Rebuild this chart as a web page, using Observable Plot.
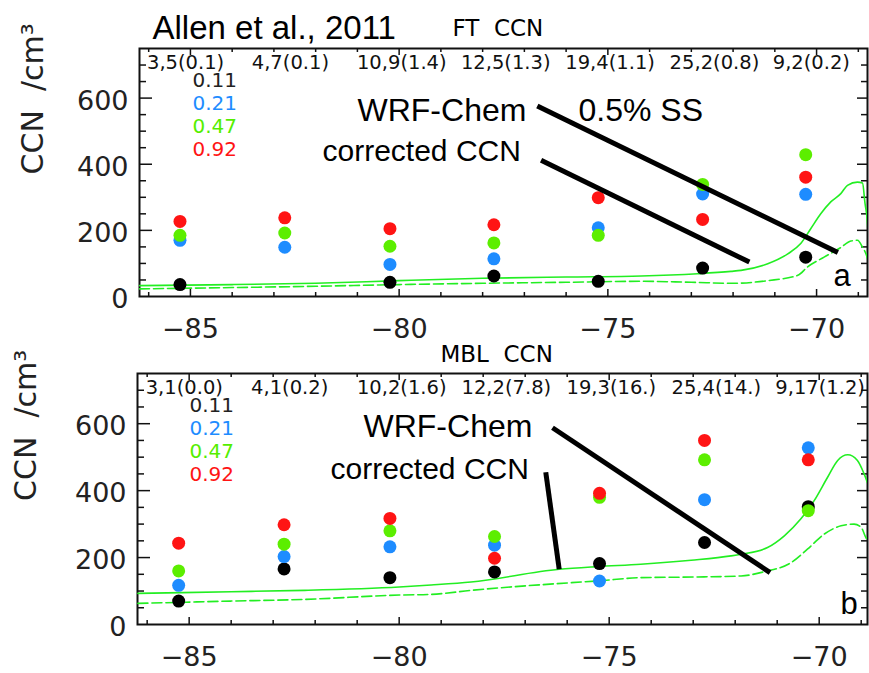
<!DOCTYPE html>
<html><head><meta charset="utf-8">
<script src="https://cdn.jsdelivr.net/npm/d3@7"></script>
<script src="https://cdn.jsdelivr.net/npm/@observablehq/plot@0.6"></script>
<style>
body{margin:0;background:#fff}
#chart svg{display:block}
</style>
</head><body><div id="chart"></div>
<script>
// ---------- data ----------
const lon = [-85.25, -82.74, -80.22, -77.73, -75.23, -72.73, -70.26];
const ssLabels = ["0.11", "0.21", "0.47", "0.92"];
const ssColors = ["#000000", "#1e8cff", "#5cee00", "#ff1414"];
const ssTextColors = ["#222222", "#1e8cff", "#55ee00", "#ff1414"];

// FT panel (a)
const ftCounts = ["3,5(0.1)", "4,7(0.1)", "10,9(1.4)", "12,5(1.3)", "19,4(1.1)", "25,2(0.8)", "9,2(0.2)"];
const ft011 = [36, null, 43, 62, 46, 86, 119];
const ft021 = [170, 149, 97, 114, 208, 310, 309];
const ft047 = [185, 192, 152, 162, 185, 339, 429];
const ft092 = [227, 238, 205, 217, 299, 233, 361];
const ftSolidLon = [-86.22, -84, -82, -80, -78, -76, -74.2, -72.85, -72.05, -71.81, -71.17, -70.69, -70.38, -70.14, -69.9, -69.66, -69.42, -69.26, -69.02, -68.9, -68.84, -68.78, -68.74];
const ftSolid    = [33, 36, 40, 48, 55, 59, 62, 69, 76, 79, 99, 129, 160, 205, 250, 286, 311, 336, 346, 343, 282, 221, 110];
const ftDashLon  = [-86.22, -84, -82, -80, -78, -76, -74.2, -73, -72, -71.17, -70.45, -70.22, -69.82, -69.42, -69.18, -69.02, -68.9, -68.78, -68.74];
const ftDashed   = [23, 27, 31, 36, 40, 43, 46, 43, 40, 48, 64, 89, 119, 148, 168, 170, 149, 114, 90];

// MBL panel (b)
const mblCounts = ["3,1(0.0)", "4,1(0.2)", "10,2(1.6)", "12,2(7.8)", "19,3(16.)", "25,4(14.)", "9,17(1.2)"];
const mbl011 = [70, 166, 140, 157, 182, 245, 352];
const mbl021 = [117, 203, 232, 237, 130, 373, 528];
const mbl047 = [160, 240, 280, 263, 380, 492, 340];
const mbl092 = [243, 298, 317, 198, 392, 550, 492];
const mblSolidLon = [-86.22, -84, -82.25, -80, -79.24, -78.29, -76.19, -75.28, -74.25, -73.05, -72.1, -71.86, -71.23, -70.83, -70.44, -70.12, -69.8, -69.56, -69.32, -69.09, -68.93, -68.8];
const mblSolid    = [93, 98, 102, 112, 118, 127, 165, 173, 180, 192, 205, 210, 230, 265, 315, 370, 440, 490, 507, 490, 450, 406];
const mblDashLon  = [-86.22, -84, -82.25, -80, -79.24, -78.29, -75.9, -75.28, -74.25, -72.9, -71.86, -71.3, -70.67, -70.28, -69.88, -69.48, -69.17, -69.0, -68.89, -68.8];
const mblDashed   = [63, 70, 75, 88, 90, 102, 125, 130, 140, 142, 145, 158, 185, 225, 270, 295, 300, 290, 260, 241];

// pointer lines [lon1, ccn1, lon2, ccn2]
const ftPointers = [[-76.69, 576, -69.49, 133], [-76.6, 412, -71.61, 104]];
const mblPointers = [[-76.35, 588, -71.17, 155], [-76.51, 455, -76.19, 165]];

const yMajor = [200, 400, 600];
const yLabels = [0, 200, 400, 600];
const yMinor = [50, 100, 150, 250, 300, 350, 450, 500, 550, 650, 700];
const xMajor = [-85, -80, -75, -70];
const xMinor = [-86, -84, -83, -82, -81, -79, -78, -77, -76, -74, -73, -72, -71, -69];

// ---------- drawing ----------
const W = 869;
const tickFont = "DejaVu Sans";
const sansFont = "Liberation Sans, Arial, sans-serif";

function panel(cfg) {
  const {height, mt, mb, ml, mr, xDomain, counts, series, sLon, s, dLon, d, pointers, texts, ylabDx} = cfg;
  const fw = W - ml - mr, fh = height - mt - mb;
  const dots = [];
  series.forEach((vals, si) => vals.forEach((v, i) => { if (v != null) dots.push({lon: lon[i], v, c: ssColors[si]}); }));
  const solidData = sLon.map((x, i) => ({x, y: s[i]}));
  const dashData = dLon.map((x, i) => ({x, y: d[i]}));
  const marks = [
    Plot.frame({stroke: "#111", strokeWidth: 2}),
    Plot.tickY(yMinor, {y: v => v, insetRight: fw - 7, stroke: "#111", strokeWidth: 1.5}),
    Plot.tickY(yMajor, {y: v => v, insetRight: fw - 13, stroke: "#111", strokeWidth: 1.5}),
    Plot.tickY(yMinor, {y: v => v, insetLeft: fw - 6, stroke: "#111", strokeWidth: 1.5}),
    Plot.tickY(yMajor, {y: v => v, insetLeft: fw - 10, stroke: "#111", strokeWidth: 1.5}),
    Plot.tickX(xMinor, {x: v => v, insetTop: fh - 4, stroke: "#111", strokeWidth: 1.5}),
    Plot.tickX(xMajor, {x: v => v, insetTop: fh - 7, stroke: "#111", strokeWidth: 1.5}),
    Plot.tickX(xMinor, {x: v => v, insetBottom: fh - 4, stroke: "#111", strokeWidth: 1.5}),
    Plot.tickX(xMajor, {x: v => v, insetBottom: fh - 7, stroke: "#111", strokeWidth: 1.5}),
    Plot.axisX({ticks: xMajor, tickSize: 0, tickPadding: 22, fontSize: 27, fontFamily: tickFont, fill: "#222", label: null}),
    Plot.axisY({ticks: yLabels, tickSize: 0, tickPadding: 11, fontSize: 27, fontFamily: tickFont, fill: "#222", label: null, dy: 3}),
    Plot.text(["CCN  /cm³"], {frameAnchor: "left", rotate: -90, dx: ylabDx, dy: 2, fontSize: 30, fontFamily: tickFont, fill: "#222"}),
    Plot.line(solidData, {x: "x", y: "y", stroke: "#22ee22", strokeWidth: 1.6, clip: true, curve: "monotone-x"}),
    Plot.line(dashData, {x: "x", y: "y", stroke: "#22ee22", strokeWidth: 1.6, strokeDasharray: "10,4", clip: true, curve: "monotone-x"}),
    Plot.dot(dots, {x: "lon", y: "v", fill: "c", r: 6.5}),
    Plot.link(pointers, {x1: p => p[0], y1: p => p[1], x2: p => p[2], y2: p => p[3], stroke: "#000", strokeWidth: 5}),
    Plot.text(counts, {x: (t, i) => lon[i], frameAnchor: "top", dy: 20, dx: -33, lineAnchor: "bottom", textAnchor: "start", fontSize: 19.5, fontFamily: tickFont, fill: "#111"}),
  ];
  ssLabels.forEach((lab, i) => {
    marks.push(Plot.text([lab], {frameAnchor: "top-left", dx: cfg.legDx, dy: 38 + 23 * i, lineAnchor: "bottom", textAnchor: "start", fontSize: 20, fontFamily: tickFont, fill: ssTextColors[i]}));
  });
  texts.forEach(t => {
    marks.push(Plot.text([t.text], {frameAnchor: "top-left", dx: t.dx, dy: t.dy, lineAnchor: "bottom", textAnchor: "start", fontSize: t.size, fontFamily: t.font || sansFont, fill: "#000"}));
  });
  return Plot.plot({
    width: W, height,
    marginTop: mt, marginBottom: mb, marginLeft: ml, marginRight: mr,
    x: {domain: xDomain},
    y: {domain: [0, 750]},
    style: {background: "#fff", overflow: "visible"},
    marks
  });
}

const topPanel = panel({
  height: 345, mt: 48, mb: 49, ml: 139, mr: 2,
  xDomain: [-86.22, -68.78],
  counts: ftCounts, series: [ft011, ft021, ft047, ft092],
  sLon: ftSolidLon, s: ftSolid, dLon: ftDashLon, d: ftDashed,
  pointers: ftPointers, ylabDx: -106, legDx: 53,
  texts: [
    {text: "Allen et al., 2011", dx: 13, dy: -10, size: 33},
    {text: "FT  CCN", dx: 313, dy: -13, size: 23, font: tickFont},
    {text: "WRF-Chem", dx: 218, dy: 72, size: 32},
    {text: "0.5% SS", dx: 439, dy: 72, size: 32},
    {text: "corrected CCN", dx: 183, dy: 112, size: 30},
    {text: "a", dx: 694, dy: 237, size: 31}
  ]
});

const bottomPanel = panel({
  height: 328, mt: 28, mb: 49, ml: 137, mr: 2,
  xDomain: [-86.23, -68.85],
  counts: mblCounts, series: [mbl011, mbl021, mbl047, mbl092],
  sLon: mblSolidLon, s: mblSolid, dLon: mblDashLon, d: mblDashed,
  pointers: mblPointers, ylabDx: -111, legDx: 52,
  texts: [
    {text: "MBL  CCN", dx: 303, dy: -12, size: 23, font: tickFont},
    {text: "WRF-Chem", dx: 226, dy: 63, size: 32},
    {text: "corrected CCN", dx: 193, dy: 105, size: 30},
    {text: "b", dx: 703, dy: 240, size: 31}
  ]
});

const root = document.getElementById("chart");
root.appendChild(topPanel);
root.appendChild(bottomPanel);
</script>
</body></html>
